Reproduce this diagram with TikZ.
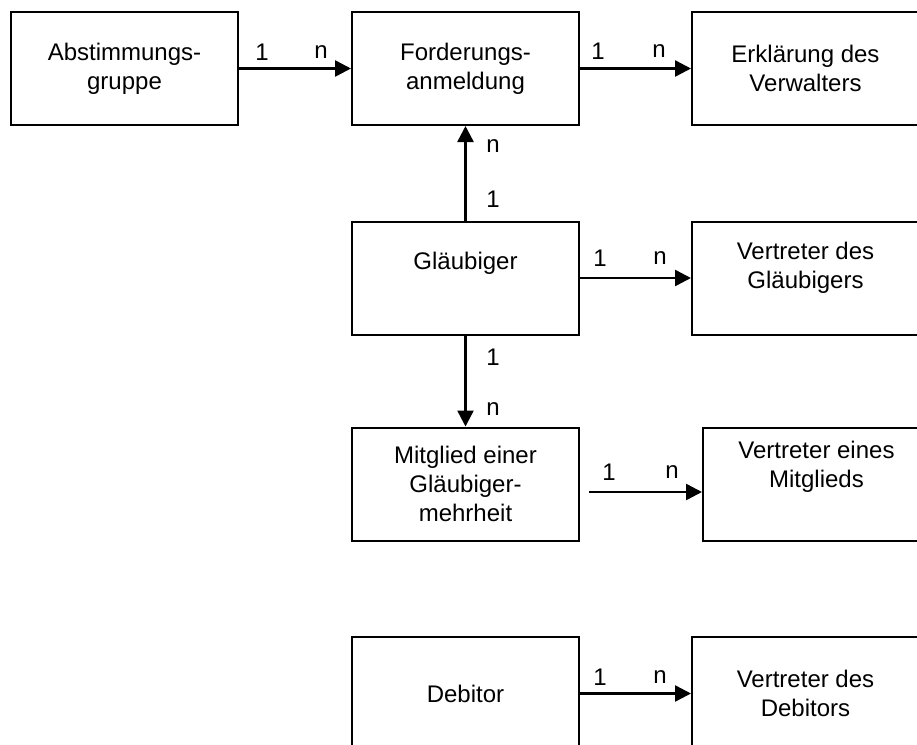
\documentclass[tikz,border=0pt]{standalone}
\usepackage{fontspec}
\setmainfont{Liberation Sans}
\usetikzlibrary{arrows.meta}
\tikzset{
  entity/.style={draw, line width=1pt, minimum width=113.5pt, minimum height=56.5pt,
    inner sep=0pt, align=center, font=\fontsize{12}{14.5}\selectfont},
  txt/.style={inner sep=0pt, align=center, font=\fontsize{12}{14.5}\selectfont},
  card/.style={inner sep=0pt, font=\fontsize{12}{14.5}\selectfont},
  rel/.style={line width=1.25pt, -{Triangle[length=8pt,width=8pt]}},
}
\begin{document}
\begin{tikzpicture}[x=0.5pt,y=-0.5pt]
\clip (0,0) rectangle (917,745);

\node [entity] (abst) at (124.5,68.5) {Abstimmungs-\\gruppe};
\node [entity] (ford) at (465.5,68.5) {Forderungs-\\anmeldung};
\node [entity] (erkl) at (805.5,68.5) {Erklärung des\\Verwalters};
\node [entity] (glaeub) at (465.5,278) {};
\node [entity] (vglaeub) at (805.5,278) {};
\node [entity] (mitgl) at (465.5,484) {Mitglied einer\\Gläubiger-\\mehrheit};
\node [entity] (vmitgl) at (816.5,484) {};
\node [entity] (debitor) at (465.5,693.5) {Debitor};
\node [entity] (vdebitor) at (805.5,693.5) {Vertreter des\\Debitors};

\node [txt] (glaeubt) at (465.5,263) {Gläubiger};
\node [txt] (vglaeubt) at (805.5,268) {Vertreter des\\Gläubigers};
\node [txt] (vmitglt) at (816.5,467) {Vertreter eines\\Mitglieds};

\coordinate (mstart) at (589,492);

\draw [rel] (abst) to (ford);
\draw [rel] (ford) to (erkl);
\draw [rel] (glaeub) to (ford);
\draw [rel] (glaeub) to (mitgl);
\draw [rel] (glaeub) to (vglaeub);
\draw [rel] (mstart) to (mstart -| vmitgl.west);
\draw [rel] (debitor) to (vdebitor);

% cardinalities
\node [card] (c1) at (262,52) {1};
\node [card] (c2) at (321,52) {n};
\node [card] (c3) at (598,51) {1};
\node [card] (c4) at (659,51) {n};
\node [card] (c5) at (493,146) {n};
\node [card] (c6) at (493,199) {1};
\node [card] (c7) at (600,258) {1};
\node [card] (c8) at (660,258) {n};
\node [card] (c9) at (493,357) {1};
\node [card] (c10) at (493,409) {n};
\node [card] (c11) at (609,472) {1};
\node [card] (c12) at (672,472) {n};
\node [card] (c13) at (600,677) {1};
\node [card] (c14) at (660,677) {n};
\end{tikzpicture}
\end{document}
